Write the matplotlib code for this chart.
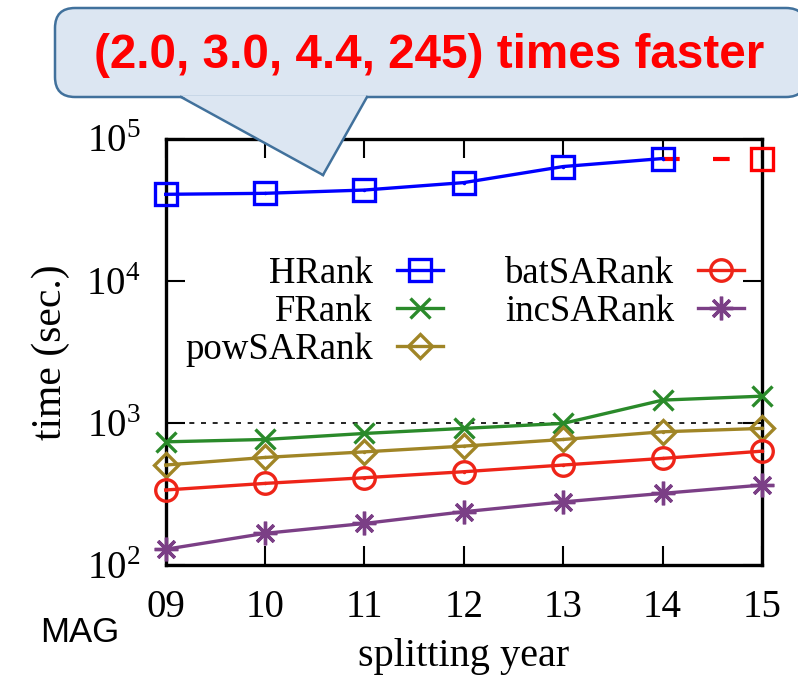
import matplotlib
matplotlib.use("Agg")
import matplotlib.pyplot as plt
from matplotlib.patches import FancyBboxPatch, Polygon
from matplotlib.lines import Line2D
from matplotlib.ticker import NullLocator, FixedLocator

plt.rcParams['font.family'] = ['Liberation Serif', 'DejaVu Serif']
plt.rcParams['mathtext.fontset'] = 'custom'
plt.rcParams['mathtext.rm'] = 'Liberation Serif'

# running time (sec.) per splitting year
years = [9, 10, 11, 12, 13, 14, 15]
year_labels = ['09', '10', '11', '12', '13', '14', '15']
hrank = [40500, 41150, 43400, 48950, 63500, 72300]
hrank_est_years = [14, 15]
hrank_est = [72300, 72300]
frank = [735, 764, 842, 914, 991, 1445, 1540]
powsarank = [505, 571, 625, 686, 764, 865, 914]
batsarank = [337, 375, 411, 453, 505, 562, 632]
incsarank = [129, 167, 196, 237, 278, 319, 365]

callout_text = '(2.0, 3.0, 4.4, 245) times faster'

W, H = 798, 677
fig = plt.figure(figsize=(W / 100, H / 100), dpi=100)

# plot box in pixels
x0, x1, y0, y1 = 165.7, 762.0, 138.5, 565.0
ax = fig.add_axes([x0 / W, 1 - y1 / H, (x1 - x0) / W, (y1 - y0) / H])

lw = 2.4
mew = 2.4
series = [
    (years[:len(hrank)], hrank, '#0000ff', 's', 'HRank'),
    (years, frank, '#2a8a2a', 'x', 'FRank'),
    (years, powsarank, '#a08526', 'D', 'powSARank'),
    (years, batsarank, '#ee2418', 'o', 'batSARank'),
    (years, incsarank, '#7b3f86', (8, 2, 0), 'incSARank'),
]
msize = {'s': 16, 'x': 15, 'D': 12.5, 'o': 15.5, (8, 2, 0): 17}

ax.plot(hrank_est_years, hrank_est, color='#ff0000', lw=lw + 0.6, dashes=(4, 8),
        clip_on=False, zorder=3)
ax.plot(hrank_est_years[-1:], hrank_est[-1:], ls='none', marker='s', ms=16,
        mfc='none', mec='#ff0000', mew=mew, clip_on=False, zorder=4)

for xs, ys, c, m, lab in series:
    ax.plot(xs, ys, color=c, lw=lw, marker=m, ms=msize[m], mfc='none',
            mec=c, mew=mew, clip_on=False, zorder=4)
    if m in ('s', 'D', 'o'):
        ax.plot(xs, ys, ls='none', marker='.', ms=3, color=c, clip_on=False, zorder=5)

ax.axhline(1000, color='black', lw=1.2, ls=(0, (3, 4)), zorder=2)

ax.set_yscale('log')
ax.set_ylim(1e2, 1e5)
ax.set_xlim(9, 15)
ax.yaxis.set_major_locator(FixedLocator([1e2, 1e3, 1e4, 1e5]))
ax.yaxis.set_minor_locator(NullLocator())
ax.set_yticklabels([r'$10^{2}$', r'$10^{3}$', r'$10^{4}$', r'$10^{5}$'])
ax.set_xticks(years)
ax.set_xticklabels(year_labels)
ax.tick_params(axis='both', direction='in', length=14, width=1.5,
               top=True, right=True)
ax.tick_params(axis='x', labelsize=28, pad=17)
ax.tick_params(axis='y', labelsize=28, pad=18)
for s in ax.spines.values():
    s.set_linewidth(2.4)

ax.set_xlabel('splitting year', fontsize=29, labelpad=9)
ax.set_ylabel('time (sec.)', fontsize=30, labelpad=12)

# legend: right-aligned names followed by line samples
def axfrac(px, py):
    return (px - x0) / (x1 - x0), (y1 - py) / (y1 - y0)

rows = [270, 308, 346]
layout = [(0, 0), (1, 0), (2, 0), (0, 1), (1, 1)]
cols = [(373, 397, 443), (674, 698, 744)]
for (xs, ys, c, m, lab), (r, col) in zip(series, layout):
    tx, sx0, sx1 = cols[col]
    py = rows[r]
    fx, fy = axfrac(tx, py)
    ax.text(fx, fy, lab, transform=ax.transAxes, ha='right', va='center_baseline',
            fontsize=26.5)
    a0, _ = axfrac(sx0, py)
    a1, _ = axfrac(sx1, py)
    am = (a0 + a1) / 2
    ax.add_line(Line2D([a0, am, a1], [fy, fy, fy], transform=ax.transAxes,
                       color=c, lw=lw, marker=m, markevery=[1], ms=msize[m],
                       mfc='none', mec=c, mew=mew, zorder=5))

# callout bubble drawn over the plot, in pixel units (inches * 100)
def inch(px, py):
    return px / 100, (H - py) / 100

fill = '#dce6f2'
edge = '#41719c'
bx0, bx1, by0, by1 = 55, 806, 8, 97
bl = inch(bx0, by1)
box = FancyBboxPatch(bl, (bx1 - bx0) / 100, (by1 - by0) / 100,
                     boxstyle='round,pad=0,rounding_size=0.2',
                     transform=fig.dpi_scale_trans, fc=fill, ec=edge, lw=1.8,
                     zorder=20)
fig.add_artist(box)
tail = Polygon([inch(181, 95.5), inch(323, 175), inch(367, 95.5)], closed=True,
               transform=fig.dpi_scale_trans, fc=fill, ec='none', zorder=21)
fig.add_artist(tail)
for p in [(181, 97), (367, 97)]:
    fig.add_artist(Line2D([p[0] / 100, 3.23], [(H - p[1]) / 100, (H - 175) / 100],
                          transform=fig.dpi_scale_trans, color=edge, lw=1.8,
                          zorder=22))
fig.text(429 / W, 1 - 55 / H, callout_text, ha='center', va='center',
         fontsize=34.3, fontweight='bold', color='#ff0000',
         family=['Liberation Sans', 'DejaVu Sans'], zorder=23)

fig.text(80 / W, 1 - 632 / H, 'MAG', ha='center', va='center', fontsize=25,
         family=['Liberation Sans', 'DejaVu Sans'])

fig.savefig('out.png', dpi=100)
